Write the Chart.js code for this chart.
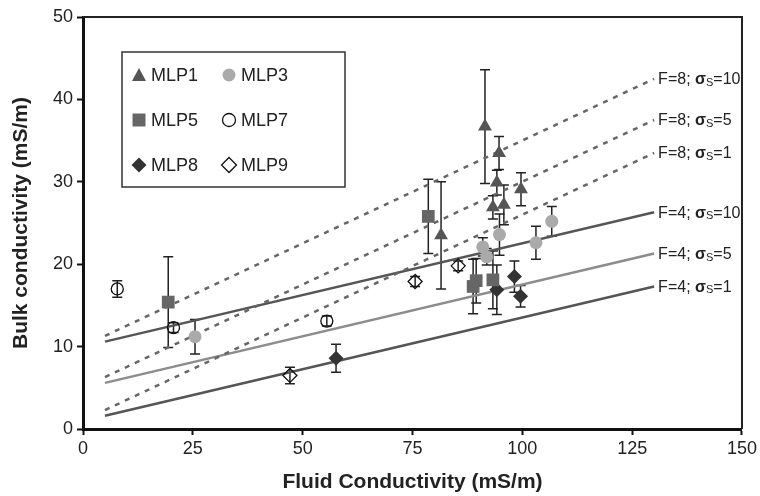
<!DOCTYPE html>
<html>
<head>
<meta charset="utf-8">
<script src="https://cdn.jsdelivr.net/npm/chart.js@4.4.0/dist/chart.umd.min.js"></script>
<style>
html,body{margin:0;padding:0;background:#fff}
</style>
</head>
<body>
<canvas id="c" width="760" height="496"></canvas>
<script>
// measured samples (x = fluid, y = bulk, err = +/-)
const mlp1X = [81.5, 91.5, 94.2, 94.7, 93.3, 95.8, 99.7]
const mlp1Y = [23.5, 36.7, 29.9, 33.5, 26.9, 27.2, 29.1]
const mlp1Err = [6.5, 6.9, 1.5, 2.0, 1.4, 2.4, 2.0]

const mlp3X = [25.5, 91.0, 91.9, 94.8, 103.1, 106.7]
const mlp3Y = [11.2, 22.1, 20.9, 23.6, 22.6, 25.2]
const mlp3Err = [2.1, 1.1, 1.0, 2.5, 2.0, 1.8]

const mlp5X = [19.4, 78.6, 88.8, 89.5, 93.3]
const mlp5Y = [15.4, 25.8, 17.3, 18.0, 18.1]
const mlp5Err = [5.5, 4.5, 3.3, 2.7, 3.5]

const mlp7X = [7.8, 20.6, 55.5]
const mlp7Y = [17.0, 12.3, 13.1]
const mlp7Err = [1.0, 0.6, 0.6]

const mlp8X = [57.6, 94.2, 98.2, 99.6]
const mlp8Y = [8.6, 16.9, 18.5, 16.1]
const mlp8Err = [1.7, 3.0, 1.9, 1.3]

const mlp9X = [47.1, 75.6, 85.4]
const mlp9Y = [6.5, 17.9, 19.8]
const mlp9Err = [1.0, 0.6, 0.6]

// model lines, start and end
const lineX = [5, 130]
const f4s1 = [1.6, 17.3]
const f4s5 = [5.6, 21.3]
const f4s10 = [10.6, 26.3]
const f8s1 = [2.3, 33.5]
const f8s5 = [6.3, 37.5]
const f8s10 = [11.3, 42.5]

const xTicks = [0, 25, 50, 75, 100, 125, 150]
const yTicks = [0, 10, 20, 30, 40, 50]

const FONT = '"Liberation Sans", Arial, sans-serif'

function pts(xs, ys){
    return xs.map((x,i)=>({x:x, y:ys[i]}))
}

function sample(label, xs, ys, err, style, fill, radius){
    return {
        type: 'scatter', label: label, data: pts(xs, ys), err: err,
        pointStyle: style, pointRadius: radius, pointHoverRadius: radius,
        backgroundColor: fill, borderColor: fill === 'transparent' ? '#111' : fill,
        pointBorderWidth: fill === 'transparent' ? 1.3 : 0
    }
}

function model(tag, f, ys, color, dashed){
    return {
        type: 'line', label: tag, tag: tag, fval: f, data: pts(lineX, ys),
        borderColor: color, borderWidth: 2.5,
        borderDash: dashed ? [5, 6] : [], pointRadius: 0, fill: false
    }
}

// error bars under the markers
const errorBars = {
    id: 'errorBars',
    beforeDatasetsDraw(chart){
        const ctx = chart.ctx, xs = chart.scales.x, ys = chart.scales.y
        ctx.save()
        ctx.strokeStyle = '#222'
        ctx.lineWidth = 1.5
        chart.data.datasets.forEach(ds=>{
            if(!ds.err) return
            ds.data.forEach((p,i)=>{
                const px = xs.getPixelForValue(p.x)
                const top = ys.getPixelForValue(p.y + ds.err[i])
                const bot = ys.getPixelForValue(p.y - ds.err[i])
                ctx.beginPath()
                ctx.moveTo(px, top); ctx.lineTo(px, bot)
                ctx.moveTo(px-5, top); ctx.lineTo(px+5, top)
                ctx.moveTo(px-5, bot); ctx.lineTo(px+5, bot)
                ctx.stroke()
            })
        })
        ctx.restore()
    }
}

function drawMark(ctx, style, x, y, fill){
    ctx.beginPath()
    if(style === 'triangle'){
        ctx.moveTo(x, y-7); ctx.lineTo(x+7, y+6); ctx.lineTo(x-7, y+6); ctx.closePath()
    } else if(style === 'circle'){
        ctx.arc(x, y, 6.5, 0, Math.PI*2)
    } else if(style === 'rect'){
        ctx.rect(x-6.5, y-6.5, 13, 13)
    } else {
        ctx.moveTo(x, y-7.5); ctx.lineTo(x+7.5, y); ctx.lineTo(x, y+7.5); ctx.lineTo(x-7.5, y); ctx.closePath()
    }
    if(fill === 'transparent'){
        ctx.strokeStyle = '#111'; ctx.lineWidth = 1.3; ctx.stroke()
    } else {
        ctx.fillStyle = fill; ctx.fill()
    }
}

// frame, legend box, line labels
const extras = {
    id: 'extras',
    afterDatasetsDraw(chart){
        const ctx = chart.ctx, a = chart.chartArea
        const xs = chart.scales.x, ys = chart.scales.y
        ctx.save()
        ctx.strokeStyle = '#222'
        ctx.lineWidth = 2
        ctx.beginPath()
        ctx.moveTo(a.left, a.top); ctx.lineTo(a.right, a.top); ctx.lineTo(a.right, a.bottom)
        ctx.stroke()

        // legend
        ctx.fillStyle = '#fff'
        ctx.fillRect(122, 52, 223, 135)
        ctx.lineWidth = 1.5
        ctx.strokeStyle = '#333'
        ctx.strokeRect(122, 52, 223, 135)
        const sets = chart.data.datasets.filter(d=>d.err)
        sets.forEach((ds,i)=>{
            const col = i % 2, row = Math.floor(i/2)
            const mx = 139 + col*90, my = 75 + row*45
            drawMark(ctx, ds.pointStyle, mx, my, ds.backgroundColor)
            ctx.fillStyle = '#222'
            ctx.font = '18px ' + FONT
            ctx.textBaseline = 'middle'
            ctx.textAlign = 'left'
            ctx.fillText(ds.label, mx + 12, my + 1)
        })

        // labels at the right end of every model line
        chart.data.datasets.forEach(ds=>{
            if(!ds.tag) return
            const last = ds.data[ds.data.length-1]
            let x = xs.getPixelForValue(last.x) + 4
            const y = ys.getPixelForValue(last.y) + 1
            ctx.fillStyle = '#222'
            ctx.textBaseline = 'middle'
            ctx.font = '16px ' + FONT
            const head = 'F=' + ds.fval + '; '
            ctx.fillText(head, x, y); x += ctx.measureText(head).width
            ctx.font = 'bold 16px ' + FONT
            ctx.fillText('σ', x, y); x += ctx.measureText('σ').width
            ctx.font = '11px ' + FONT
            ctx.fillText('S', x, y + 3); x += ctx.measureText('S').width
            ctx.font = '16px ' + FONT
            ctx.fillText('=' + ds.tag, x, y)
        })
        ctx.restore()
    }
}

new Chart(document.getElementById('c'), {
    data: {
        datasets: [
            sample('MLP1', mlp1X, mlp1Y, mlp1Err, 'triangle', '#555', 8),
            sample('MLP3', mlp3X, mlp3Y, mlp3Err, 'circle', '#aaa', 6.5),
            sample('MLP5', mlp5X, mlp5Y, mlp5Err, 'rect', '#666', 9),
            sample('MLP7', mlp7X, mlp7Y, mlp7Err, 'circle', 'transparent', 6),
            sample('MLP8', mlp8X, mlp8Y, mlp8Err, 'rectRot', '#333', 7.5),
            sample('MLP9', mlp9X, mlp9Y, mlp9Err, 'rectRot', 'transparent', 7),
            model('10', 8, f8s10, '#666', true),
            model('5', 8, f8s5, '#666', true),
            model('1', 8, f8s1, '#666', true),
            model('10', 4, f4s10, '#555', false),
            model('5', 4, f4s5, '#8c8c8c', false),
            model('1', 4, f4s1, '#555', false)
        ]
    },
    options: {
        responsive: false,
        animation: false,
        devicePixelRatio: 1,
        layout: {padding: {top: 17, right: 18, left: 0, bottom: 0}},
        plugins: {legend: {display: false}, tooltip: {enabled: false}},
        scales: {
            x: {
                type: 'linear', min: 0, max: 150,
                afterFit(s){ s.height = 67 },
                afterBuildTicks(s){ s.ticks = xTicks.map(v=>({value: v})) },
                border: {color: '#111', width: 3},
                grid: {drawOnChartArea: false, drawTicks: true, tickLength: 6, tickWidth: 2, tickColor: '#111'},
                ticks: {color: '#222', padding: 3, font: {family: FONT, size: 18}},
                title: {display: true, text: 'Fluid Conductivity (mS/m)', color: '#222',
                    padding: {top: 0, bottom: 1}, font: {family: FONT, size: 21, weight: 'bold'}}
            },
            y: {
                type: 'linear', min: 0, max: 50,
                afterFit(s){ s.width = 83 },
                afterBuildTicks(s){ s.ticks = yTicks.map(v=>({value: v})) },
                border: {color: '#111', width: 3},
                grid: {drawOnChartArea: false, drawTicks: true, tickLength: 6, tickWidth: 2, tickColor: '#111'},
                ticks: {color: '#222', padding: 4, font: {family: FONT, size: 18}},
                title: {display: true, text: 'Bulk conductivity (mS/m)', color: '#222',
                    padding: {top: 9, bottom: 0}, font: {family: FONT, size: 21, weight: 'bold'}}
            }
        }
    },
    plugins: [errorBars, extras]
})
</script>
</body>
</html>
